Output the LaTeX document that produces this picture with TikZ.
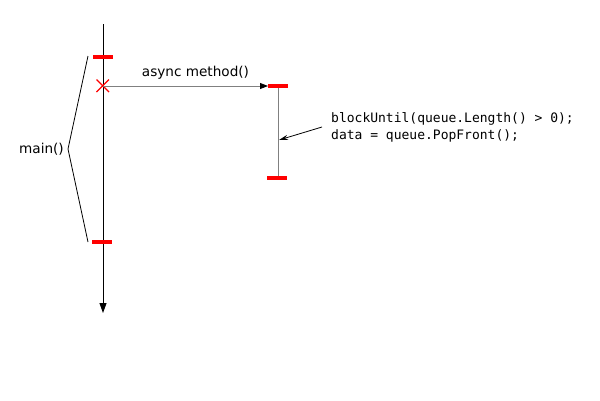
\documentclass[tikz,border=0pt]{standalone}
\usepackage{fontspec}
\setmainfont{DejaVu Sans}
\newfontfamily\codefont{DejaVu Sans Mono}
\usetikzlibrary{arrows.meta}
\begin{document}
\begin{tikzpicture}[x=1pt,y=-1pt,
  redbar/.style={draw=red,line width=3.5pt},
  conn/.style={draw=gray,line width=0.9pt},
  lbl/.style={font=\fontsize{13.6}{16}\selectfont,inner sep=0pt},
  code/.style={font=\codefont\fontsize{13}{17}\selectfont,inner sep=0pt,align=left}]
\useasboundingbox (0,0) rectangle (600,400);
% main lifeline
\coordinate (mtop) at (103,24);
\coordinate (mbot) at (103,313);
\draw[line width=0.9pt,-{Triangle[length=10pt,width=7pt]}] (mtop) -- (mbot);
\coordinate (b1l) at (93,57); \coordinate (b1r) at (113,57);
\coordinate (b2l) at (92,242); \coordinate (b2r) at (112,242);
\draw[redbar] (b1l) -- (b1r);
\draw[redbar] (b2l) -- (b2r);
% X
\coordinate (x) at (103,86);
\draw[red,line width=1.2pt] (96.5,79.5) -- (109,92) (96.5,92) -- (109,79.5);
% async arrow
\coordinate (t1l) at (268,86); \coordinate (t1r) at (288,86);
\coordinate (t2l) at (267,178); \coordinate (t2r) at (287,178);
\draw[conn,-{Triangle[length=8pt,width=6pt,black]}] (x) -- (t1l);
\node[lbl] (async) at (195.5,73) {async method()};
% task lifeline
\coordinate (ttop) at (278,86); \coordinate (tbot) at (278,178);
\draw[conn] (ttop) -- (tbot);
\draw[redbar] (t1l) -- (t1r);
\draw[redbar] (t2l) -- (t2r);
% code note
\node[code,anchor=north west] (note) at (331,112) {blockUntil(queue.Length() > 0);\\data = queue.PopFront();};
\coordinate (ns) at (322,127);
\coordinate (ne) at (279,140);
\draw[line width=0.8pt,-{Stealth[length=9pt,width=5pt]}] (ns) -- (ne);
% brace
\coordinate (br1) at (88,56); \coordinate (brm) at (68,149); \coordinate (br2) at (88,242);
\draw[line width=0.8pt] (br1) -- (brm) -- (br2);
\node[lbl,anchor=east] (main) at (64,149) {main()};
\end{tikzpicture}
\end{document}
